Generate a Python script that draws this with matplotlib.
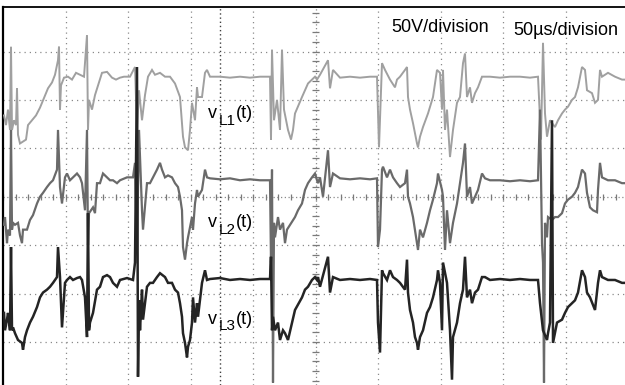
import matplotlib
matplotlib.use("Agg")
import matplotlib.pyplot as plt
import numpy as np

plt.rcParams['font.family'] = ['Liberation Sans', 'DejaVu Sans']

# time in microseconds (50 us/division), voltage in volts (50 V/division)
t_L1 = [0.8, 2.4, 4.0, 5.6, 6.4, 7.2, 8.8, 10.4, 11.2, 12.0, 13.6, 18.4, 20.0, 23.2, 26.4, 29.6, 32.8, 36.0, 39.2, 41.6,
        44.0, 44.8, 45.6, 46.4, 48.8, 52.0, 55.2, 58.4, 61.6, 64.8, 67.2, 68.0, 68.8, 71.2, 73.6, 76.0, 79.2, 83.2, 87.2, 90.4,
        93.6, 96.8, 101.6, 105.6, 107.2, 108.8, 111.2, 113.6, 116.0, 119.2, 121.6, 125.6, 129.6, 133.6, 137.6, 141.6, 144.0, 145.6, 148.0, 149.6,
        151.2, 153.6, 155.2, 156.0, 159.2, 161.6, 163.2, 165.6, 173.6, 181.6, 189.6, 197.6, 205.6, 213.6, 214.4, 215.2, 216.8, 219.2, 221.6, 223.2,
        224.8, 228.0, 230.4, 232.0, 233.6, 239.2, 244.0, 249.6, 251.2, 253.6, 260.0, 261.6, 264.0, 269.6, 277.6, 285.6, 293.6, 299.2, 300.8, 303.2,
        305.6, 309.6, 313.6, 315.2, 317.6, 321.6, 323.2, 324.0, 325.6, 328.0, 331.2, 332.0, 333.6, 336.0, 340.0, 344.0, 347.2, 349.6, 351.2, 352.0,
        353.6, 355.2, 357.6, 360.0, 363.2, 365.6, 368.0, 369.6, 371.2, 373.6, 375.2, 377.6, 380.0, 383.2, 389.6, 397.6, 405.6, 413.6, 421.6, 428.0,
        430.4, 432.0, 433.6, 435.2, 437.6, 441.6, 444.0, 447.2, 449.6, 452.0, 455.2, 457.6, 460.0, 463.2, 465.6, 467.2, 471.2, 473.6, 476.0, 477.6,
        479.2, 484.0, 489.6, 495.2, 497.6]
v_L1 = [84, 74, 90, 69, 155, 69, 79, 74, 112, 64, 55, 59, 74, 79, 84, 92, 102, 112, 118, 126,
        141, 155, 90, 115, 123, 124, 121, 128, 126, 124, 167, 69, 100, 90, 105, 115, 128, 129, 123, 121,
        123, 124, 124, 134, 69, 110, 79, 105, 124, 131, 126, 128, 124, 124, 117, 103, 62, 51, 48, 69,
        97, 79, 113, 103, 103, 128, 131, 124, 124, 123, 124, 123, 124, 124, 59, 152, 79, 100, 69, 152,
        90, 69, 59, 69, 86, 103, 117, 124, 121, 126, 141, 112, 131, 123, 124, 123, 124, 124, 51, 138,
        131, 121, 113, 121, 124, 131, 134, 103, 90, 76, 55, 51, 62, 72, 86, 103, 131, 128, 90, 131,
        69, 90, 41, 69, 97, 103, 138, 148, 103, 113, 97, 107, 113, 124, 124, 123, 124, 124, 123, 124,
        59, 159, 86, 62, 79, 72, 79, 86, 90, 93, 100, 103, 113, 134, 131, 110, 107, 97, 100, 131,
        124, 128, 124, 121, 121]

t_L2 = [0.8, 1.6, 3.2, 4.0, 5.6, 6.4, 7.2, 8.0, 9.6, 12.0, 13.6, 15.2, 16.0, 19.2, 21.6, 24.0, 27.2, 29.6, 32.0, 35.2,
        37.6, 40.0, 43.2, 44.0, 45.6, 47.2, 49.6, 51.2, 53.6, 56.0, 59.2, 61.6, 63.2, 65.6, 67.2, 68.0, 68.8, 72.0, 73.6, 75.2,
        77.6, 80.0, 83.2, 85.6, 88.0, 91.2, 93.6, 99.2, 104.0, 105.6, 107.2, 108.8, 111.2, 112.0, 115.2, 117.6, 120.0, 123.2, 125.6, 127.2,
        129.6, 132.0, 135.2, 137.6, 140.0, 141.6, 143.2, 144.0, 145.6, 147.2, 148.0, 151.2, 152.0, 153.6, 155.2, 156.0, 159.2, 161.6, 163.2, 165.6,
        173.6, 181.6, 189.6, 197.6, 205.6, 213.6, 214.4, 215.2, 216.0, 216.8, 217.6, 220.0, 221.6, 224.0, 225.6, 227.2, 233.6, 236.0, 239.2, 241.6,
        244.0, 247.2, 249.6, 251.2, 252.0, 253.6, 256.0, 260.0, 261.6, 264.0, 269.6, 277.6, 285.6, 293.6, 299.2, 300.0, 301.6, 303.2, 304.0, 307.2,
        309.6, 312.0, 315.2, 317.6, 321.6, 323.2, 324.0, 325.6, 328.0, 331.2, 332.0, 333.6, 336.0, 339.2, 341.6, 344.0, 347.2, 348.0, 351.2, 352.0,
        353.6, 355.2, 357.6, 360.0, 363.2, 365.6, 368.0, 369.6, 371.2, 373.6, 375.2, 377.6, 380.0, 383.2, 385.6, 389.6, 397.6, 405.6, 413.6, 421.6,
        428.0, 429.6, 431.2, 432.0, 432.8, 433.6, 435.2, 436.0, 439.2, 441.6, 444.0, 447.2, 449.6, 452.0, 455.2, 457.6, 460.0, 463.2, 465.6, 467.2,
        469.6, 472.0, 475.2, 476.0, 477.6, 479.2, 484.0, 489.6, 495.2, 497.6]
v_L2 = [-29, -21, -48, -34, -40, 69, -34, -27, -29, -27, -40, -48, -34, -34, -24, -19, -7, 0, 4, 10,
        14, 17, 28, 69, 10, -7, 20, 24, 17, 20, 24, 20, 14, -14, 69, -50, -17, -11, -17, 14,
        14, 24, 20, 17, 17, 14, 17, 20, 20, 35, -52, 69, -14, -34, 14, 14, 20, 28, 35, 28,
        20, 22, 20, 14, 10, 0, -14, -52, -65, -48, -42, -21, -34, -7, 7, 0, 7, 28, 20, 19,
        18, 19, 17, 18, 17, 17, -68, 28, -192, -27, -42, -21, -34, -27, -48, -34, -21, -14, -7, 7,
        14, 20, 24, 17, 14, 20, 0, 48, 10, 24, 19, 18, 19, 18, 19, -52, -34, 28, 31, 20,
        28, 20, 14, 10, 14, 28, 0, -7, -21, -48, -55, -34, -42, -27, -14, -3, 14, 24, 7, 0,
        -55, -14, -48, -27, -7, 14, 35, 55, 0, 10, -7, 0, 7, 24, 19, 17, 17, 16, 17, 16,
        17, 90, -48, -68, -192, -27, -42, -21, -24, -21, -21, -17, -7, -3, 0, 4, 10, 28, 24, 4,
        -11, -14, -16, 7, 35, 20, 17, 17, 14, 14]

t_L3 = [0.8, 1.6, 3.2, 4.0, 5.6, 6.4, 7.2, 8.0, 9.6, 12.0, 15.2, 16.0, 17.6, 19.2, 21.6, 24.0, 27.2, 29.6, 32.0, 35.2,
        37.6, 40.0, 43.2, 44.0, 45.6, 47.2, 49.6, 51.2, 53.6, 56.0, 59.2, 61.6, 63.2, 65.6, 67.2, 68.0, 68.8, 69.6, 72.0, 75.2,
        77.6, 80.0, 83.2, 85.6, 88.0, 91.2, 93.6, 99.2, 104.0, 105.6, 107.2, 108.0, 108.8, 109.6, 111.2, 112.0, 115.2, 117.6, 120.0, 123.2,
        125.6, 129.6, 132.0, 135.2, 137.6, 140.0, 141.6, 143.2, 144.0, 145.6, 147.2, 148.0, 149.6, 151.2, 152.0, 153.6, 155.2, 156.0, 159.2, 161.6,
        163.2, 165.6, 173.6, 181.6, 189.6, 197.6, 205.6, 213.6, 214.4, 215.2, 216.0, 217.6, 220.0, 221.6, 224.0, 225.6, 228.0, 231.2, 233.6, 239.2,
        241.6, 244.0, 247.2, 249.6, 251.2, 252.0, 253.6, 260.0, 261.6, 264.0, 269.6, 277.6, 285.6, 293.6, 299.2, 300.0, 301.6, 303.2, 304.0, 307.2,
        309.6, 312.0, 315.2, 317.6, 321.6, 323.2, 324.0, 325.6, 328.0, 329.6, 331.2, 332.0, 333.6, 336.0, 339.2, 341.6, 344.0, 347.2, 348.0, 349.6,
        351.2, 352.0, 355.2, 357.6, 359.2, 360.0, 363.2, 365.6, 368.0, 369.6, 371.2, 373.6, 375.2, 377.6, 380.0, 383.2, 385.6, 389.6, 397.6, 405.6,
        413.6, 421.6, 428.0, 429.6, 432.0, 435.2, 436.0, 437.6, 439.2, 440.0, 443.2, 447.2, 449.6, 452.0, 455.2, 457.6, 460.0, 463.2, 465.6, 467.2,
        469.6, 473.6, 476.0, 477.6, 479.2, 484.0, 489.6, 495.2, 497.6]
v_L3 = [-120, -138, -127, -120, -138, -52, -138, -135, -141, -148, -151, -158, -145, -138, -130, -124, -114, -104, -99, -96,
        -93, -89, -83, -52, -83, -135, -89, -86, -83, -86, -84, -83, -86, -104, -145, -17, -138, -130, -120, -96,
        -93, -83, -81, -83, -89, -93, -86, -84, -86, -68, 134, -186, -107, -138, -96, -127, -93, -89, -89, -83,
        -79, -83, -89, -89, -96, -99, -110, -124, -141, -151, -166, -155, -148, -130, -104, -130, -110, -124, -89, -76,
        -86, -85, -84, -86, -85, -86, -85, -85, -62, -138, -124, -138, -130, -148, -138, -141, -148, -130, -117, -104,
        -96, -93, -86, -83, -86, -83, -93, -62, -99, -83, -86, -85, -86, -85, -86, -130, -161, -76, -79, -86,
        -76, -83, -86, -89, -96, -65, -99, -117, -130, -145, -151, -158, -145, -138, -120, -114, -104, -86, -76, -89,
        -138, -68, -89, -138, -189, -145, -130, -110, -96, -62, -104, -96, -110, -99, -96, -83, -83, -86, -85, -86,
        -85, -86, -86, -110, -138, -148, -141, -130, 79, -151, -130, -127, -120, -114, -110, -107, -99, -76, -83, -99,
        -104, -117, -89, -76, -83, -86, -86, -89, -89]

trace_colors = ['#a0a0a0', '#6a6a6a', '#242424']
trace_widths = [1.4, 1.6, 1.8]
trace_labels = ['L1', 'L2', 'L3']
label_t = [164, 164, 164]
label_v = [81, -31, -131]

cursor_t = 173.6
volts_per_div = 50
us_per_div = 50

fig = plt.figure(figsize=(6.25, 3.85), dpi=100)
ax = fig.add_axes([3 / 625, 0, 622 / 625, 378 / 385])
ax.set_xlim(0, 497.6)
ax.set_ylim(-194.5, 196.0)

# graticule
for k in range(1, 10):
    if k == 5:
        continue
    ax.axvline(k * us_per_div, color='#8a8a8a', lw=0.9, ls=(0, (1, 3.2)), zorder=1)
for k in range(-3, 4):
    if k == 0:
        continue
    ax.axhline(k * volts_per_div, color='#8a8a8a', lw=0.9, ls=(0, (1, 3.2)), zorder=1)
# centre axes with minor tick marks
ax.axhline(0, color='#8a8a8a', lw=0.9, ls=(0, (1, 2)), zorder=1)
ax.axvline(5 * us_per_div, color='#8a8a8a', lw=0.9, ls=(0, (1, 2)), zorder=1)
tt = np.arange(0, 500, us_per_div / 5)
ax.vlines(tt, -3.2, 3.2, color='#7a7a7a', lw=0.9, zorder=1)
vv = np.arange(-190, 200, volts_per_div / 5)
ax.hlines(vv, 5 * us_per_div - 2.6, 5 * us_per_div + 2.6, color='#7a7a7a', lw=0.9, zorder=1)
# cursor
ax.axvline(cursor_t, color='#404040', lw=1.0, ls=(0, (1, 2)), zorder=1)

for t, v, c, w in zip([t_L1, t_L2, t_L3], [v_L1, v_L2, v_L3], trace_colors, trace_widths):
    ax.plot(t, v, color=c, lw=w, zorder=3, solid_joinstyle='miter')

for lab, tx, vy in zip(trace_labels, label_t, label_v):
    ax.annotate('v', (tx, vy), xytext=(0, 0), textcoords='offset points',
                fontsize=13, ha='left', va='baseline', zorder=5)
    ax.annotate(lab, (tx, vy), xytext=(7.4, -5.0), textcoords='offset points',
                fontsize=11, ha='left', va='baseline', zorder=5)
    ax.annotate('(t)', (tx, vy), xytext=(19.8, 0), textcoords='offset points',
                fontsize=13, ha='left', va='baseline', zorder=5)

ax.text(311, 170, '50V/division', fontsize=13, ha='left', va='baseline', zorder=5)
ax.text(408, 167, '50\u00b5s/division', fontsize=13, ha='left', va='baseline', zorder=5)

ax.set_xticks([])
ax.set_yticks([])
for s in ['right', 'bottom']:
    ax.spines[s].set_visible(False)
ax.spines['top'].set_linewidth(1.3)
ax.spines['left'].set_linewidth(1.6)

fig.savefig('out.png', dpi=100)
